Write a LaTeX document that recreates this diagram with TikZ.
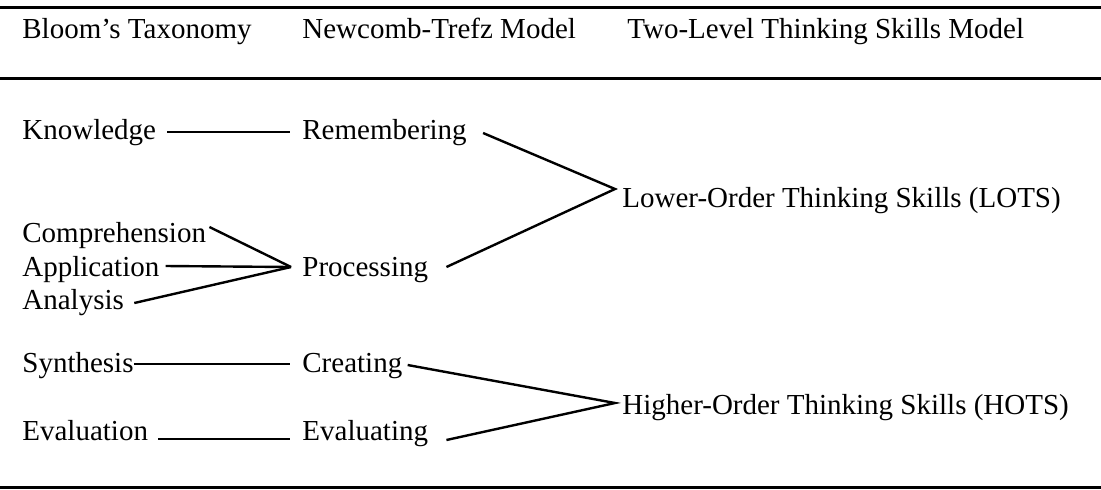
\documentclass[tikz,border=0pt]{standalone}
\usepackage{fontspec}
\setmainfont{Liberation Serif}
\usetikzlibrary{calc}
\begin{document}
\begin{tikzpicture}[x=0.5pt,y=-0.5pt,
  lbl/.style={anchor=base west,inner sep=0pt,font=\fontsize{14.5pt}{17pt}\selectfont},
  rule/.style={line width=1.5pt},
  link/.style={line width=1.2pt,line cap=butt,line join=miter,miter limit=20}]
\useasboundingbox (0,0) rectangle (1101,489);

% table rules
\draw[rule] (0,7) -- (1101,7);
\draw[rule] (0,78) -- (1101,78);
\draw[rule] (0,487) -- (1101,487);

% column headings
\node[lbl] (h1) at (22,38)  {Bloom’s Taxonomy};
\node[lbl] (h2) at (302,38) {Newcomb-Trefz Model};
\node[lbl] (h3) at (627,38) {Two-Level Thinking Skills Model};

% Bloom's taxonomy
\node[lbl] (know) at (22,139) {Knowledge};
\node[lbl] (comp) at (22,242) {Comprehension};
\node[lbl] (appl) at (22,276) {Application};
\node[lbl] (anal) at (22,309) {Analysis};
\node[lbl] (synt) at (22,372) {Synthesis};
\node[lbl] (eval) at (22,440) {Evaluation};

% Newcomb-Trefz model
\node[lbl] (rem)  at (302,139) {Remembering};
\node[lbl] (proc) at (302,276) {Processing};
\node[lbl] (crea) at (302,372) {Creating};
\node[lbl] (evng) at (302,440) {Evaluating};

% two-level model
\node[lbl] (lots) at (622,207) {Lower-Order Thinking Skills (LOTS)};
\node[lbl] (hots) at (622,414) {Higher-Order Thinking Skills (HOTS)};

% meeting points of the converging links
\coordinate (pA) at ($(proc.base west)+(-11,-9)$);
\coordinate (pL) at ($(lots.base west)+(-7,-18)$);
\coordinate (pH) at ($(hots.base west)+(-7,-11)$);

% one-to-one links
\draw[link] ($(know.base east)+(11,-7)$) -- ($(rem.base west)+(-12,-7)$);
\draw[link] ($(synt.base east)+(0,-8)$) -- ($(crea.base west)+(-12,-8)$);
\draw[link] ($(eval.base east)+(10,-1)$) -- ($(evng.base west)+(-12,-1)$);

% converging links
\draw[link] ($(comp.base east)+(3,-15)$) -- (pA);
\draw[link] ($(appl.base east)+(6,-10)$) -- (pA);
\draw[link] ($(anal.base east)+(10,-6)$) -- (pA);
\draw[link] ($(rem.base east)+(16,-6)$) -- (pL) -- ($(proc.base east)+(18,-9)$);
\draw[link] ($(crea.base east)+(5,-7)$) -- (pH) -- ($(evng.base east)+(18,0)$);
\end{tikzpicture}
\end{document}
